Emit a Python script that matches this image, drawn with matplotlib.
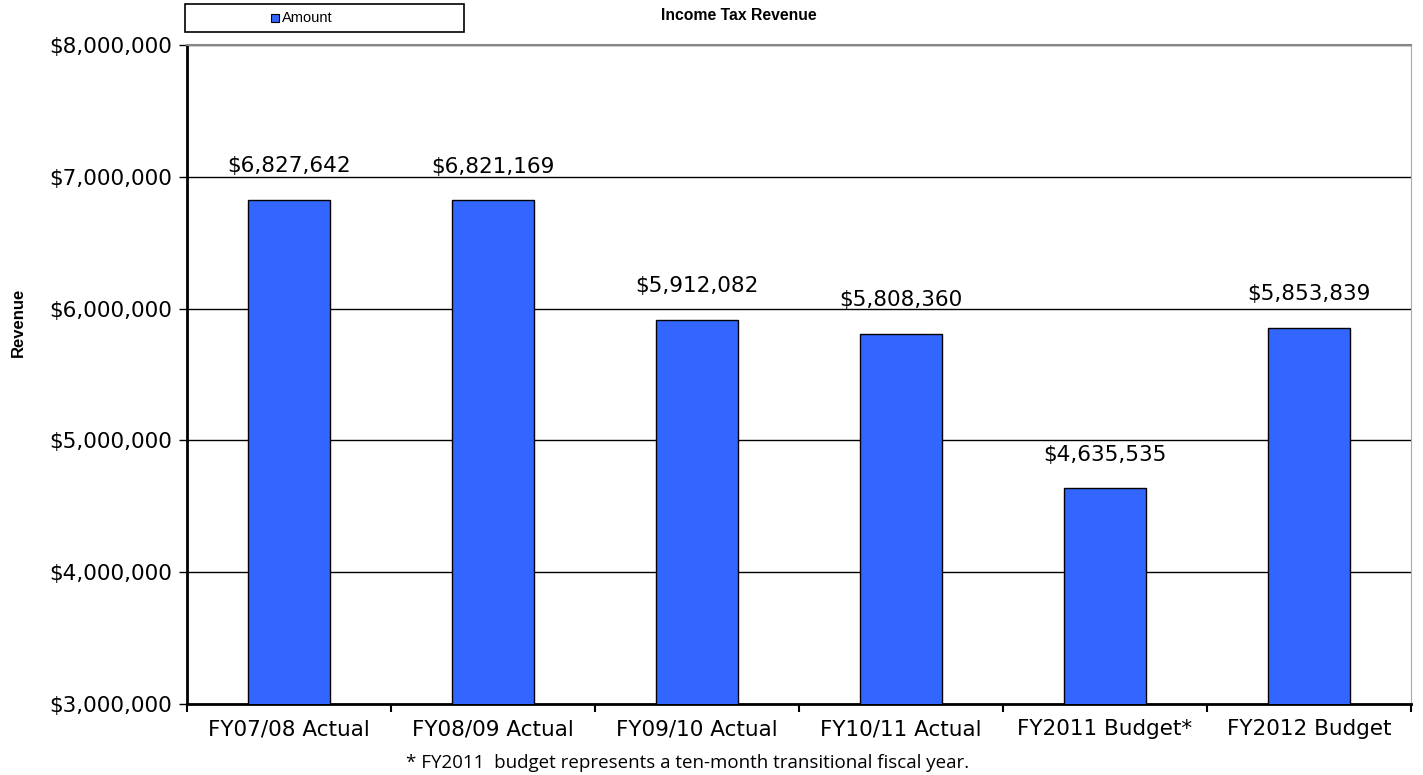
import matplotlib
matplotlib.use("Agg")
import matplotlib.pyplot as plt
from matplotlib.ticker import FuncFormatter, FixedLocator
from matplotlib.patches import Rectangle

categories = ["FY07/08 Actual", "FY08/09 Actual", "FY09/10 Actual", "FY10/11 Actual",
              "FY2011 Budget*", "FY2012 Budget"]
amounts = [6827642, 6821169, 5912082, 5808360, 4635535, 5853839]
yticks = [3000000, 4000000, 5000000, 6000000, 7000000, 8000000]

plt.rcParams['font.family'] = ['DejaVu Sans']

W, H = 1423, 775
fig = plt.figure(figsize=(W / 100, H / 100), dpi=100)
left, right, top, bottom = 187, 1411, 45, 704
ax = fig.add_axes([left / W, 1 - bottom / H, (right - left) / W, (bottom - top) / H])

x = list(range(len(categories)))
ax.bar(x, amounts, width=0.4, color="#3366FF", edgecolor="black", linewidth=1.0, zorder=3)
for xi, v in zip(x, amounts):
    ax.annotate(f"${v:,}", (xi, v), xytext=(0, 20), textcoords="offset points",
                ha="center", va="baseline", fontsize=15.5, zorder=4)

ax.set_xlim(-0.5, len(categories) - 0.5)
ax.set_ylim(3000000, 8000000)
ax.set_yticks(yticks)
ax.yaxis.set_major_formatter(FuncFormatter(lambda v, p: f"${v:,.0f}"))
ax.set_xticks(x)
ax.set_xticklabels(categories)
ax.xaxis.set_minor_locator(FixedLocator([i + 0.5 for i in range(-1, len(categories))]))
ax.tick_params(axis="x", which="major", length=0, labelsize=15.5, pad=11)
ax.tick_params(axis="x", which="minor", length=6, width=1.5, direction="out")
ax.tick_params(axis="y", length=6, width=1, labelsize=15.5, pad=5)

ax.grid(axis="y", color="black", linewidth=1.0, zorder=0)
ax.spines["left"].set_linewidth(2)
ax.spines["bottom"].set_linewidth(2)
ax.spines["top"].set_color("#888888")
ax.spines["right"].set_color("#aaaaaa")
ax.spines["top"].set_linewidth(1.5)

fig.text(18 / W, 1 - 322 / H, "Revenue", ha="center", va="center", rotation=90,
         fontsize=12, fontweight="bold", family=["Liberation Sans", "DejaVu Sans"])

fig.text(739 / W, 1 - 16 / H, "Income Tax Revenue", ha="center", va="center",
         fontsize=11.3, fontweight="bold", family=["Liberation Sans", "DejaVu Sans"])

# legend box
fig.patches.append(Rectangle((185 / W, 1 - 32 / H), (464 - 185) / W, 28 / H,
                             transform=fig.transFigure, facecolor="white",
                             edgecolor="black", linewidth=1.2))
fig.patches.append(Rectangle((271 / W, 1 - 22 / H), 8 / W, 8 / H,
                             transform=fig.transFigure, facecolor="#3366FF",
                             edgecolor="black", linewidth=0.8))
fig.text(282 / W, 1 - 18 / H, "Amount", ha="left", va="center", fontsize=10.5,
         family=["Liberation Sans", "DejaVu Sans"])

fig.text(688 / W, 1 - 763 / H,
         "* FY2011  budget represents a ten-month transitional fiscal year.",
         ha="center", va="center", fontsize=13.5, family=["Open Sans", "DejaVu Sans"])

fig.savefig("out.png", dpi=100)
